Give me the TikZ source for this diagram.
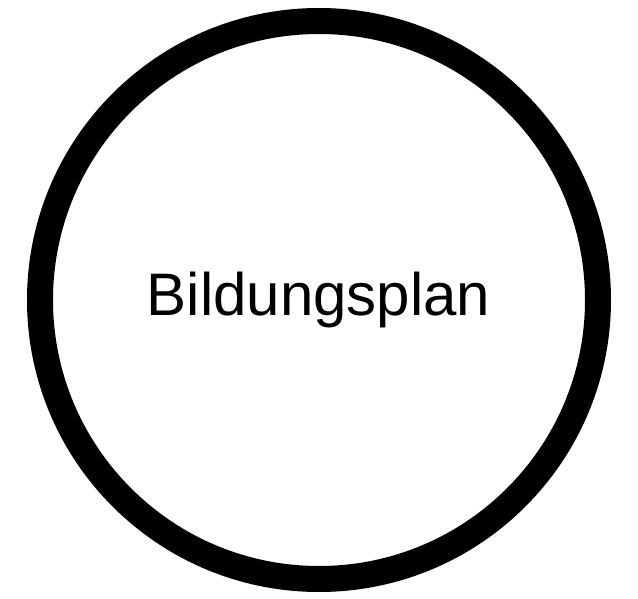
\documentclass[tikz,border=0pt]{standalone}
\usepackage{fontspec}
\setmainfont{Liberation Sans}
\begin{document}
\begin{tikzpicture}[x=1pt,y=-1pt,
  ring/.style={draw=black,line width=26pt,circle,minimum size=558pt,inner sep=0pt},
  label/.style={font=\fontsize{60}{72}\selectfont,inner sep=0pt,anchor=base}]
\useasboundingbox (0,0) rectangle (638,599);
\node[ring] (plan) at (319,300) {};
\node[label] (t) at (318.5,315) {Bildungsplan};
\end{tikzpicture}
\end{document}
